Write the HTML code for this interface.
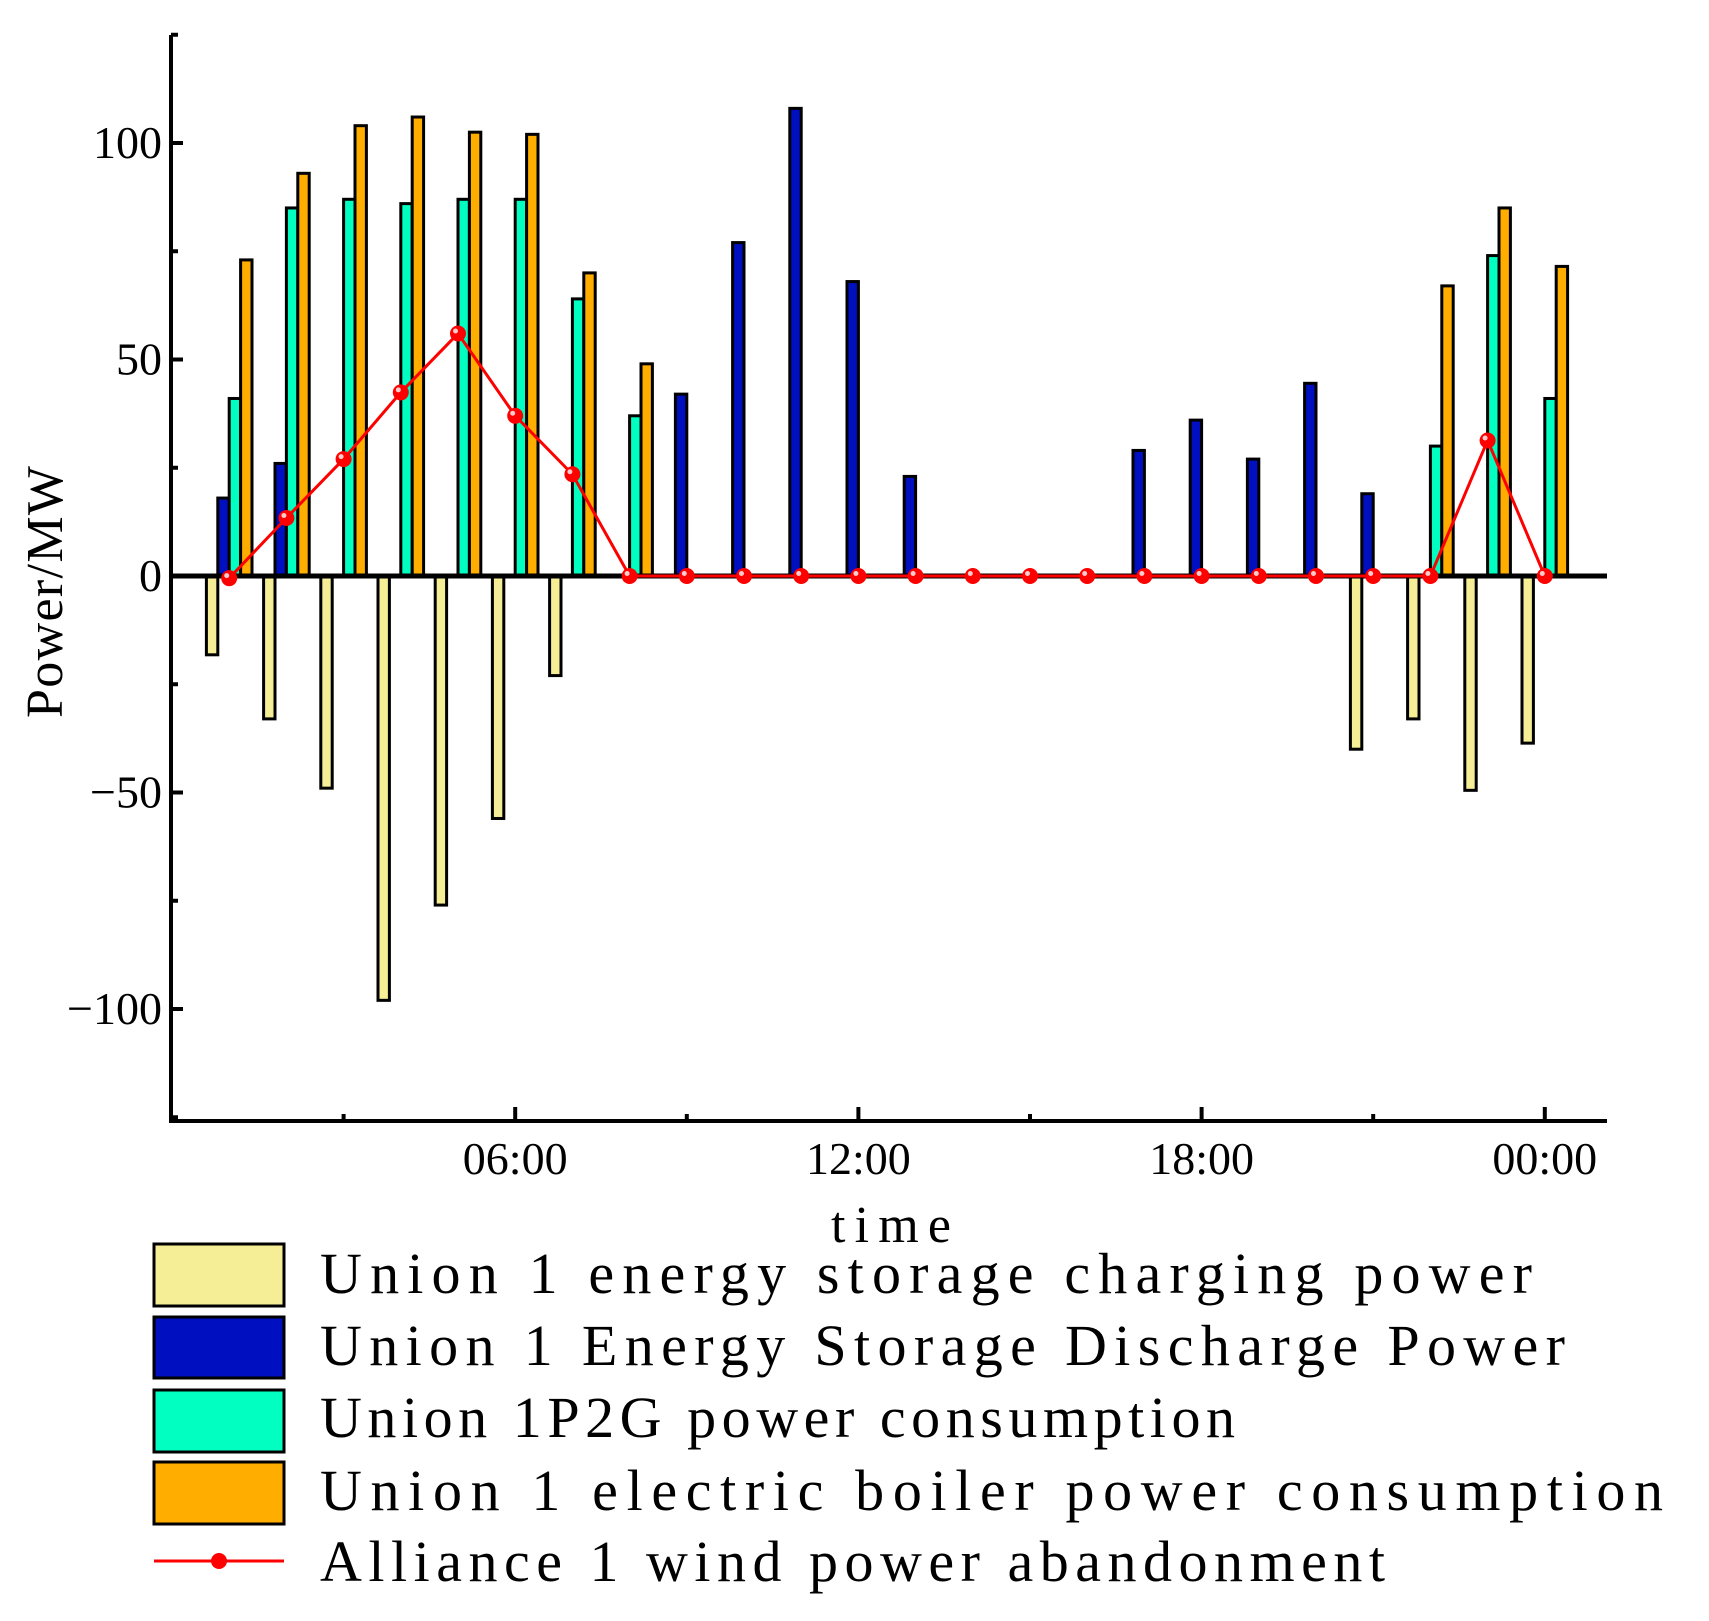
<!DOCTYPE html>
<html><head><meta charset="utf-8"><style>
html,body{margin:0;padding:0;background:#fff;}
svg{display:block;}
text{font-family:"Liberation Serif",serif;fill:#000;}
</style></head><body>
<svg id="chart" width="1709" height="1621" viewBox="0 0 1709 1621" xmlns="http://www.w3.org/2000/svg">
<g id="bars"></g>
<g id="axes"></g>
<g id="series-line"></g>
<text x="891" y="1242" font-size="52" text-anchor="middle" textLength="120">time</text>
<text transform="translate(62,592) rotate(-90)" font-size="52" text-anchor="middle" textLength="252">Power/MW</text>
<g>
<g><rect x="154" y="1244" width="130" height="62" fill="#F5EE96" stroke="#000" stroke-width="3"/><text x="320" y="1293" font-size="58" textLength="1212">Union 1 energy storage charging power</text></g>
<g><rect x="154" y="1317" width="130" height="61" fill="#0010C0" stroke="#000" stroke-width="3"/><text x="320" y="1365" font-size="58" textLength="1245">Union 1 Energy Storage Discharge Power</text></g>
<g><rect x="154" y="1390" width="130" height="62" fill="#00FFC0" stroke="#000" stroke-width="3"/><text x="320" y="1437" font-size="58" textLength="915">Union 1P2G power consumption</text></g>
<g><rect x="154" y="1462" width="130" height="62" fill="#FFAE00" stroke="#000" stroke-width="3"/><text x="320" y="1510" font-size="58" textLength="1343">Union 1 electric boiler power consumption</text></g>
<g><line x1="154" y1="1561" x2="284" y2="1561" stroke="#f00" stroke-width="3"/><circle cx="219" cy="1561" r="8" fill="#f00"/><text x="320" y="1581" font-size="58" textLength="1065">Alliance 1 wind power abandonment</text></g>
</g>
</svg>
<script>
const hours=[1,2,3,4,5,6,7,8,9,10,11,12,13,14,15,16,17,18,19,20,21,22,23,24];
const charging=[-18.2,-33,-49,-98,-76,-56,-23,0,0,0,0,0,0,0,0,0,0,0,0,0,-40,-33,-49.5,-38.6];
const discharge=[18,26,0,0,0,0,0,0,42,77,108,68,23,0,0,0,29,36,27,44.5,19,0,0,0];
const p2g=[41,85,87,86,87,87,64,37,0,0,0,0,0,0,0,0,0,0,0,0,0,30,74,41];
const boiler=[73,93,104,106,102.5,102,70,49,0,0,0,0,0,0,0,0,0,0,0,0,0,67,85,71.5];
const wind=[-0.5,13.4,27,42.4,56,37,23.5,0,0,0,0,0,0,0,0,0,0,0,0,0,0,0,31.3,0];
const yTicks=[-100,-50,0,50,100];
const xTickHours=[6,12,18,24];
const xTickLabels=["06:00","12:00","18:00","00:00"];

const NS="http://www.w3.org/2000/svg";
const xS=h=>172+57.2*h;
const yS=v=>576-4.33*v;
function mk(tag,attrs,parent){const e=document.createElementNS(NS,tag);for(const k in attrs)e.setAttribute(k,attrs[k]);parent.appendChild(e);return e;}
const bars=document.getElementById('bars'),axes=document.getElementById('axes'),ln=document.getElementById('series-line');
const W=11.4;
const series=[[charging,'#F5EE96',-2,'charging-bar'],[discharge,'#0010C0',-1,'discharge-bar'],[p2g,'#00FFC0',0,'p2g-bar'],[boiler,'#FFAE00',1,'boiler-bar']];
series.forEach(([arr,col,off,name])=>{
 arr.forEach((v,i)=>{
  if(v===0)return;
  const x=xS(hours[i])+off*W;
  const y=Math.min(yS(v),yS(0)),h=Math.abs(yS(v)-yS(0));
  const r=mk('rect',{x:x,y:y,width:W,height:h,fill:col,stroke:'#000','stroke-width':3},bars);
  
  
 });
});
mk('line',{x1:171,y1:35,x2:171,y2:1122,stroke:'#000','stroke-width':4},axes);
mk('line',{x1:169,y1:1121,x2:1607,y2:1121,stroke:'#000','stroke-width':4},axes);
mk('line',{x1:171,y1:yS(0),x2:1607,y2:yS(0),stroke:'#000','stroke-width':5},axes);
for(let v=-125;v<=125;v+=25){
 const major=v%50===0;
 mk('line',{x1:171,y1:yS(v),x2:171+(major?12:7),y2:yS(v),stroke:'#000','stroke-width':4},axes);
}
yTicks.forEach(v=>{
 const t=mk('text',{x:162,y:yS(v)+15,'font-size':46,'text-anchor':'end'},axes);
 t.textContent=String(v).replace('-','\u2212');
 
 
});
for(let h=3;h<=24;h+=3){
 const major=h%6===0;
 mk('line',{x1:xS(h),y1:1121,x2:xS(h),y2:1121-(major?14:7),stroke:'#000','stroke-width':4},axes);
}
xTickHours.forEach((h,i)=>{
 const t=mk('text',{x:xS(h),y:1174,'font-size':46,'text-anchor':'middle'},axes);
 t.textContent=xTickLabels[i];
 
 
});
const pts=wind.map((v,i)=>xS(hours[i])+','+yS(v)).join(' ');
const pl=mk('polyline',{points:pts,fill:'none',stroke:'#f00','stroke-width':3},ln);


wind.forEach((v,i)=>{
 const c=mk('circle',{cx:xS(hours[i]),cy:yS(v),r:8,fill:'#f00'},ln);
 
 
 mk('circle',{cx:xS(hours[i])-2.5,cy:yS(v)-2.5,r:2.5,fill:'#fcc'},ln);
});
</script>
</body></html>
